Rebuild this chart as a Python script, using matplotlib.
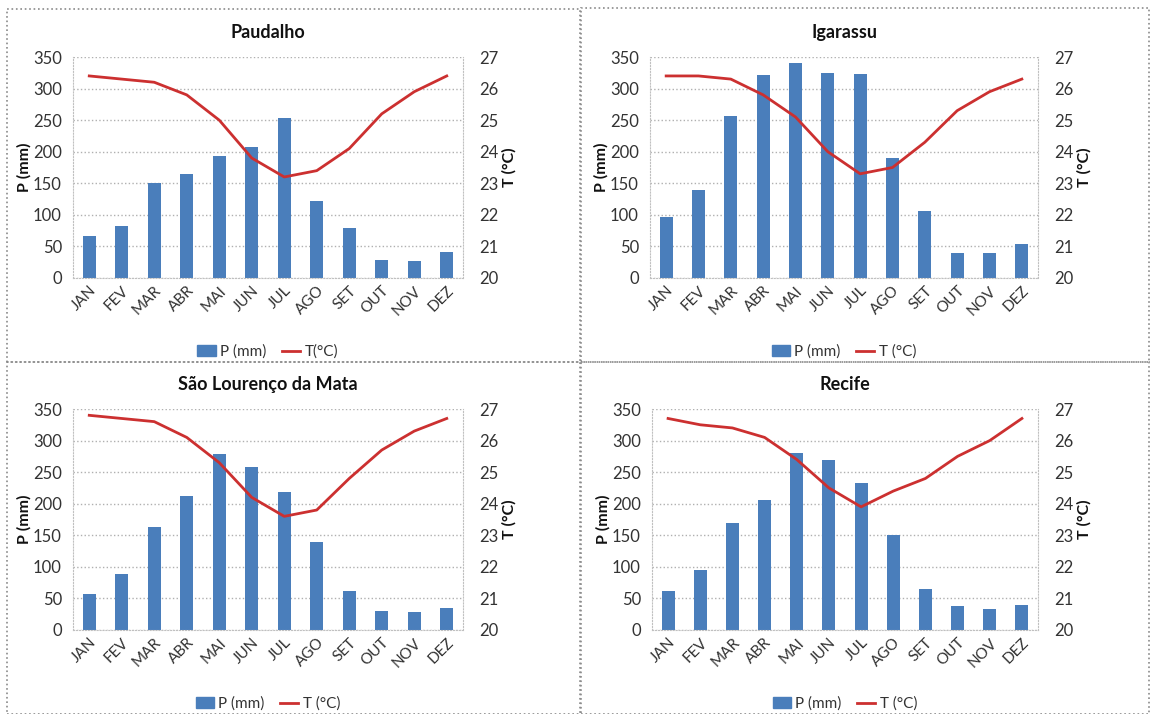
import numpy as np
import matplotlib.pyplot as plt
from matplotlib.lines import Line2D

plt.rcParams['font.family'] = ['Lato', 'DejaVu Sans']

months = ['JAN', 'FEV', 'MAR', 'ABR', 'MAI', 'JUN', 'JUL', 'AGO', 'SET', 'OUT', 'NOV', 'DEZ']

# precipitation (mm) and temperature (°C) per station
p_paudalho = [66, 82, 151, 165, 194, 208, 253, 122, 79, 29, 27, 41]
t_paudalho = [26.4, 26.3, 26.2, 25.8, 25.0, 23.8, 23.2, 23.4, 24.1, 25.2, 25.9, 26.4]

p_igarassu = [96, 139, 257, 322, 340, 324, 323, 190, 106, 40, 39, 54]
t_igarassu = [26.4, 26.4, 26.3, 25.8, 25.1, 24.0, 23.3, 23.5, 24.3, 25.3, 25.9, 26.3]

p_slm = [57, 88, 163, 212, 278, 258, 219, 140, 61, 30, 28, 35]
t_slm = [26.8, 26.7, 26.6, 26.1, 25.3, 24.2, 23.6, 23.8, 24.8, 25.7, 26.3, 26.7]

p_recife = [61, 95, 170, 206, 281, 270, 233, 150, 65, 38, 34, 40]
t_recife = [26.7, 26.5, 26.4, 26.1, 25.4, 24.5, 23.9, 24.4, 24.8, 25.5, 26.0, 26.7]

bar_color = '#4a7ebb'
line_color = '#cc3030'
txt = '#333333'

W, H = 1151, 714
fig = plt.figure(figsize=(W / 100, H / 100), dpi=100)


def px(x0, y0, x1, y1):
    # convert pixel box (top-left origin) to figure fraction rect
    return [x0 / W, 1 - y1 / H, (x1 - x0) / W, (y1 - y0) / H]


def panel(rect, title, p, t, tlabel):
    ax = fig.add_axes(px(*rect))
    x = np.arange(len(months))
    ax.bar(x, p, width=0.4, color=bar_color, zorder=2, label='P (mm)')
    ax.set_xlim(-0.5, 11.5)
    ax.set_ylim(0, 350)
    ax.set_yticks(range(0, 351, 50))
    ax.set_xticks(x)
    ax.set_xticklabels(months, rotation=45, ha='right', rotation_mode='anchor',
                       fontsize=11, color=txt)
    ax.tick_params(axis='y', labelsize=12, colors=txt, length=0, pad=8)
    ax.tick_params(axis='x', length=0, pad=4)
    ax.yaxis.grid(True, linestyle=':', color='#b0b0b0', linewidth=1, zorder=0)
    for s in ax.spines.values():
        s.set_linestyle(':')
        s.set_color('#c0c0c0')
    ax.spines['top'].set_visible(False)
    ax.set_ylabel('P (mm)', fontsize=11.5, fontweight='bold', labelpad=1, color='#111111')
    ax.set_title(title, fontsize=13, fontweight='bold', pad=14, color='#111111')

    ax2 = ax.twinx()
    ax2.plot(x, t, color=line_color, linewidth=2, zorder=3)
    ax2.set_ylim(20, 27)
    ax2.set_yticks(range(20, 28))
    ax2.tick_params(axis='y', labelsize=12, colors=txt, length=0, pad=12)
    for s in ax2.spines.values():
        s.set_visible(False)
    ax2.set_ylabel('T (°C)', fontsize=11.5, fontweight='bold', labelpad=2, color='#111111')

    handles = [plt.Rectangle((0, 0), 1, 1, color=bar_color),
               Line2D([0], [0], color=line_color, linewidth=2)]
    ax.legend(handles, ['P (mm)', tlabel], loc='upper center',
              bbox_to_anchor=(0.5, -0.24), ncol=2, frameon=False, fontsize=11,
              handlelength=1.2, handletextpad=0.3, columnspacing=1.0,
              labelcolor=txt)
    return ax


panel((73, 57, 463, 278), 'Paudalho', p_paudalho, t_paudalho, 'T(°C)')
panel((650, 57, 1038, 278), 'Igarassu', p_igarassu, t_igarassu, 'T (°C)')
panel((73, 409, 463, 630), 'São Lourenço da Mata', p_slm, t_slm, 'T (°C)')
panel((652, 409, 1038, 630), 'Recife', p_recife, t_recife, 'T (°C)')

# dotted frames around the panels
for x0, y0, x1, y1 in [(7, 9, 580, 362), (581, 8, 1149, 362),
                       (7, 362, 580, 714), (581, 362, 1149, 714)]:
    fig.add_artist(plt.Rectangle((x0 / W, 1 - y1 / H), (x1 - x0) / W, (y1 - y0) / H,
                                 transform=fig.transFigure, fill=False,
                                 linestyle=':', edgecolor='#8a8a8a', linewidth=1.2))

fig.savefig('out.png', dpi=100)
